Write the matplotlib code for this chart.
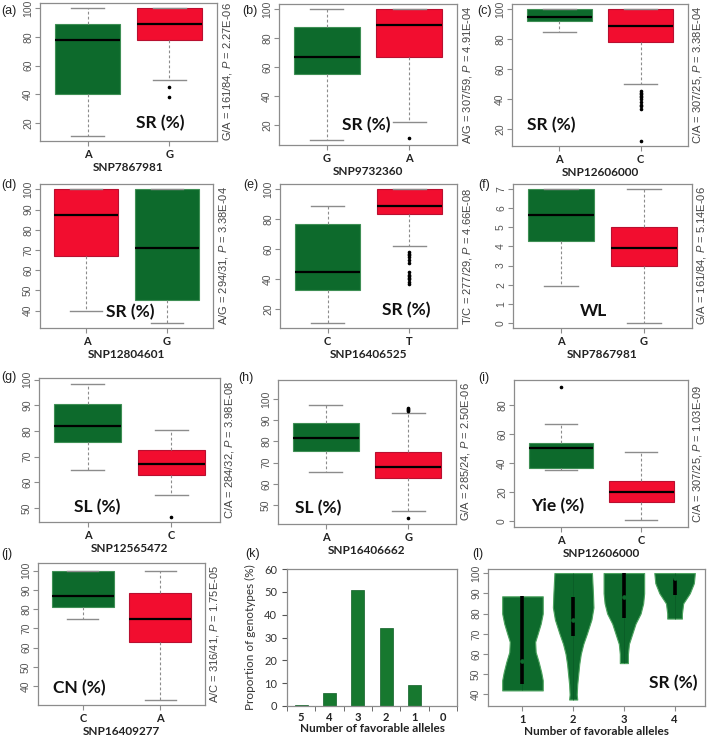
import matplotlib.pyplot as plt
import numpy as np

plt.rcParams['font.family'] = 'Liberation Sans'
plt.rcParams['mathtext.fontset'] = 'custom'
plt.rcParams['mathtext.rm'] = 'Liberation Sans'
plt.rcParams['mathtext.it'] = 'Liberation Sans:italic'

GREEN = '#0d6a2c'
RED = '#f20d2f'

# box stats per allele: [lower whisker, q1, median, q3, upper whisker]
a_snp = 'SNP7867981'
a_alleles = ['A', 'G']
a_stats = [[11, 40, 78, 89, 100], [50, 78, 89, 100, 100]]
a_fliers = [[], [45, 38]]
a_fav = 'A'
a_trait = 'SR (%)'
a_note = 'G/A = 161/84, $P$ = 2.27E-06'
a_yticks = [20, 40, 60, 80, 100]

b_snp = 'SNP9732360'
b_alleles = ['G', 'A']
b_stats = [[10, 55, 67, 88, 100], [22, 67, 89, 100, 100]]
b_fliers = [[], [11]]
b_fav = 'G'
b_trait = 'SR (%)'
b_note = 'A/G = 307/59, $P$ = 4.91E-04'
b_yticks = [20, 40, 60, 80, 100]

c_snp = 'SNP12606000'
c_alleles = ['A', 'C']
c_stats = [[85, 92, 95, 100, 100], [50, 78, 89, 100, 100]]
c_fliers = [[], [45, 44, 43, 42, 41, 40, 38, 36, 35, 33, 12]]
c_fav = 'A'
c_trait = 'SR (%)'
c_note = 'C/A = 307/25, $P$ = 3.38E-04'
c_yticks = [20, 40, 60, 80, 100]

d_snp = 'SNP12804601'
d_alleles = ['A', 'G']
d_stats = [[40, 67, 87.5, 100, 100], [34, 45, 71, 100, 100]]
d_fliers = [[], []]
d_fav = 'G'
d_trait = 'SR (%)'
d_note = 'A/G = 294/31, $P$ = 3.38E-04'
d_yticks = [40, 50, 60, 70, 80, 90, 100]

e_snp = 'SNP16406525'
e_alleles = ['C', 'T']
e_stats = [[11, 33, 44.5, 77, 89], [62.5, 83.5, 89, 100, 100]]
e_fliers = [[], [58, 57, 56, 55, 53, 51, 45, 43, 42, 41, 40, 38, 37]]
e_fav = 'C'
e_trait = 'SR (%)'
e_note = 'T/C = 277/29, $P$ = 4.66E-08'
e_yticks = [20, 40, 60, 80, 100]

f_snp = 'SNP7867981'
f_alleles = ['A', 'G']
f_stats = [[1.9, 4.3, 5.65, 7, 7], [0, 3, 3.9, 5, 7]]
f_fliers = [[], []]
f_fav = 'A'
f_trait = 'WL'
f_note = 'G/A = 161/84, $P$ = 5.14E-06'
f_yticks = [0, 1, 2, 3, 4, 5, 6, 7]

g_snp = 'SNP12565472'
g_alleles = ['A', 'C']
g_stats = [[65, 75.7, 82, 90.5, 98.4], [55, 62.7, 67, 72.5, 80.2]]
g_fliers = [[], [46.7]]
g_fav = 'A'
g_trait = 'SL (%)'
g_note = 'C/A = 284/32, $P$ = 3.98E-08'
g_yticks = [50, 60, 70, 80, 90, 100]

h_snp = 'SNP16406662'
h_alleles = ['A', 'G']
h_stats = [[65.5, 75.5, 81.5, 88.5, 97], [47, 62.5, 68, 75, 93.5]]
h_fliers = [[], [96, 95.5, 95, 94.5, 44]]
h_fav = 'A'
h_trait = 'SL (%)'
h_note = 'G/A = 285/24, $P$ = 2.50E-06'
h_yticks = [50, 60, 70, 80, 90, 100]

i_snp = 'SNP12606000'
i_alleles = ['A', 'C']
i_stats = [[35, 36.5, 50, 53.5, 66.5], [0.5, 13.5, 20, 27.5, 47.5]]
i_fliers = [[92], []]
i_fav = 'A'
i_trait = 'Yie (%)'
i_note = 'C/A = 307/25, $P$ = 1.03E-09'
i_yticks = [0, 20, 40, 60, 80]

j_snp = 'SNP16409277'
j_alleles = ['C', 'A']
j_stats = [[75, 81, 87, 100, 100], [33, 62.7, 74.7, 88.3, 100]]
j_fliers = [[], []]
j_fav = 'C'
j_trait = 'CN (%)'
j_note = 'A/C = 316/41, $P$ = 1.75E-05'
j_yticks = [40, 50, 60, 70, 80, 90, 100]

# (k) share of genotypes by number of favourable alleles
k_alleles = ['5', '4', '3', '2', '1', '0']
k_values = [0.4, 5.8, 50.7, 34.0, 9.3, 0]

# (l) violin outlines: SR level and half width
l_groups = ['1', '2', '3', '4']
l1_y = [42, 47, 51, 56, 61, 66, 70, 75, 80, 88.5]
l1_w = [0.40, 0.40, 0.37, 0.32, 0.26, 0.25, 0.30, 0.36, 0.40, 0.40]
l2_y = [37.5, 40, 45, 50, 55, 60, 65, 70, 77, 83, 90, 100]
l2_w = [0.08, 0.07, 0.08, 0.10, 0.12, 0.15, 0.20, 0.27, 0.36, 0.40, 0.39, 0.37]
l3_y = [55.5, 60, 65, 70, 75, 80, 85, 90, 95, 100]
l3_w = [0.08, 0.08, 0.10, 0.165, 0.23, 0.33, 0.38, 0.40, 0.40, 0.40]
l4_y = [77.5, 80, 85, 90, 95, 100]
l4_w = [0.145, 0.145, 0.17, 0.30, 0.38, 0.40]
l_q1 = [45, 69, 78, 89]
l_med = [56.5, 77, 88, 97.5]
l_q3 = [88.5, 88.3, 100, 97.6]
l_yticks = [40, 50, 60, 70, 80, 90, 100]

W, H = 709, 741
fig = plt.figure(figsize=(W / 100, H / 100), dpi=100)


def px_axes(l, t, r, b):
    return fig.add_axes([l / W, 1 - b / H, (r - l) / W, (b - t) / H])


def style_axes(ax, rotate_y=True):
    for s in ax.spines.values():
        s.set_color('#8c8c8c')
        s.set_linewidth(0.9)
    ax.tick_params(axis='both', color='#8c8c8c', length=3.5, width=0.8)
    ax.tick_params(axis='x', pad=2.5)
    if rotate_y:
        ax.tick_params(axis='y', labelrotation=90, labelsize=7.5,
                       labelcolor='#555555', pad=1.5)
        for lab in ax.get_yticklabels():
            lab.set_verticalalignment('center')


def box_panel(rect, alleles, stats, fliers, fav, trait, note, yticks, snp,
              ylim, trait_xy):
    ax = px_axes(*rect)
    data = []
    for name, s, f in zip(alleles, stats, fliers):
        data.append(dict(label=name, whislo=s[0], q1=s[1], med=s[2],
                         q3=s[3], whishi=s[4], fliers=f))
    res = ax.bxp(data, positions=[1, 2], widths=0.8, capwidths=0.4,
                 patch_artist=True,
                 boxprops=dict(linewidth=0.8),
                 medianprops=dict(color='black', linewidth=1.6),
                 whiskerprops=dict(color='#8c8c8c', linewidth=0.8,
                                   linestyle=(0, (2.5, 2))),
                 capprops=dict(color='#8c8c8c', linewidth=1.0),
                 flierprops=dict(marker='o', markersize=1.6,
                                 markerfacecolor='black',
                                 markeredgecolor='black', linestyle='none'))
    for name, patch in zip(alleles, res['boxes']):
        if name == fav:
            patch.set_facecolor(GREEN)
            patch.set_edgecolor('#3f8f55')
        else:
            patch.set_facecolor(RED)
            patch.set_edgecolor('#b81030')
    ax.set_xlim(0.42, 2.58)
    ax.set_ylim(*ylim)
    ax.set_yticks(yticks)
    ax.set_xticks([1, 2], alleles, family='Lato', fontweight='bold',
                  fontsize=8, color='#222222')
    ax.set_xlabel(snp, family='Lato', fontweight='bold', fontsize=8.5,
                  color='#222222', labelpad=1)
    style_axes(ax)
    ax.text(trait_xy[0], trait_xy[1], trait, transform=ax.transAxes,
            ha='center', va='center', fontsize=12.5, fontweight='bold',
            family='Lato', color='#111111')
    l, t, r, b = rect
    fig.text((r + 10) / W, 1 - (t + b) / 2 / H, note, rotation=90,
             ha='center', va='center', fontsize=8, color='#444444')
    return ax


box_panel((40, 3, 217, 141), a_alleles, a_stats, a_fliers, a_fav, a_trait,
          a_note, a_yticks, a_snp, (7.44, 103.56), (0.68, 0.13))
box_panel((279, 4, 457, 145), b_alleles, b_stats, b_fliers, b_fav, b_trait,
          b_note, b_yticks, b_snp, (6.4, 103.6), (0.49, 0.14))
box_panel((512, 4, 688, 146), c_alleles, c_stats, c_fliers, c_fav, c_trait,
          c_note, c_yticks, c_snp, (8.48, 103.52), (0.225, 0.15))
box_panel((40, 184, 213, 328), d_alleles, d_stats, d_fliers, d_fav, d_trait,
          d_note, d_yticks, d_snp, (31.36, 102.64), (0.52, 0.11))
box_panel((280, 184, 457, 328), e_alleles, e_stats, e_fliers, e_fav, e_trait,
          e_note, e_yticks, e_snp, (7.44, 103.56), (0.716, 0.125))
box_panel((513, 184, 692, 328), f_alleles, f_stats, f_fliers, f_fav, f_trait,
          f_note, f_yticks, f_snp, (-0.28, 7.28), (0.45, 0.12))
box_panel((39, 378, 220, 522), g_alleles, g_stats, g_fliers, g_fav, g_trait,
          g_note, g_yticks, g_snp, (44.6, 100.6), (0.32, 0.106))
box_panel((278, 380, 456, 524), h_alleles, h_stats, h_fliers, h_fav, h_trait,
          h_note, h_yticks, h_snp, (41, 109), (0.226, 0.11))
box_panel((514, 380, 688, 527), i_alleles, i_stats, i_fliers, i_fav, i_trait,
          i_note, i_yticks, i_snp, (-4, 97), (0.25, 0.14))
box_panel((38, 563, 205, 705), j_alleles, j_stats, j_fliers, j_fav, j_trait,
          j_note, j_yticks, j_snp, (30.2, 104), (0.247, 0.117))

# (k) bar chart
ax = px_axes(287, 569, 457, 706)
x = np.arange(len(k_alleles))
ax.bar(x, k_values, width=0.45, color='#17782f', edgecolor='#0f5f26',
       linewidth=0.5)
ax.set_xlim(-0.5, len(k_alleles) - 0.5)
ax.set_ylim(0, 60)
ax.set_yticks(np.arange(0, 61, 10))
ax.set_xticks(x, k_alleles, family='Lato', fontweight='bold', fontsize=8,
              color='#222222')
ax.set_xticks(np.arange(-0.5, len(k_alleles), 1), minor=True)
for s in ax.spines.values():
    s.set_color('#8c8c8c')
    s.set_linewidth(0.9)
ax.tick_params(axis='x', which='major', length=0, pad=4)
ax.tick_params(axis='x', which='minor', length=3.5, color='#555555')
ax.tick_params(axis='y', length=3.5, color='#555555', labelsize=8,
               labelcolor='#333333')
for lab in ax.get_yticklabels():
    lab.set_family('Lato')
ax.set_ylabel('Proportion of genotypes (%)', family='Lato', fontsize=8.5,
              color='#333333', labelpad=6)
ax.set_xlabel('Number of favorable alleles', family='Lato',
              fontweight='bold', fontsize=8.5, color='#222222', labelpad=0.5)

# (l) violin plot
ax = px_axes(488, 569, 705, 706)
profiles = [(l1_y, l1_w), (l2_y, l2_w), (l3_y, l3_w), (l4_y, l4_w)]
for pos, (ys, ws) in enumerate(profiles, start=1):
    ys = np.array(ys)
    ws = np.array(ws)
    ax.fill_betweenx(ys, pos - ws, pos + ws, facecolor=GREEN,
                     edgecolor='#4da35f', linewidth=0.8)
    ax.vlines(pos, ys.min(), ys.max(), color='#0a5a25', linewidth=0.5)
pos = np.arange(1, len(l_groups) + 1)
ax.vlines(pos, l_q1, l_q3, color='black', linewidth=2.6)
ax.plot(pos, l_med, linestyle='none', marker='o', markersize=2.3,
        markerfacecolor=GREEN, markeredgecolor=GREEN)
ax.set_xlim(0.32, 4.6)
ax.set_ylim(34.3, 102)
ax.set_yticks(l_yticks)
ax.set_xticks(pos, l_groups, family='Lato', fontweight='bold', fontsize=8,
              color='#222222')
ax.set_xlabel('Number of favorable alleles', family='Lato',
              fontweight='bold', fontsize=8.5, color='#222222', labelpad=0.5)
style_axes(ax)
ax.text(0.854, 0.165, 'SR (%)', transform=ax.transAxes, ha='center',
        va='center', fontsize=12.5, fontweight='bold', family='Lato',
        color='#111111')

# panel letters
letters = ['(a)', '(b)', '(c)', '(d)', '(e)', '(f)', '(g)', '(h)', '(i)',
           '(j)', '(k)', '(l)']
letter_xy = [(1, 5), (242, 5), (477, 5), (1, 179), (243, 179), (478, 179),
             (1, 371), (238, 372), (478, 372), (1, 548), (245, 548),
             (472, 548)]
for lab, (lx, ly) in zip(letters, letter_xy):
    fig.text(lx / W, 1 - ly / H, lab, fontsize=9, ha='left', va='top',
             color='#222222')

fig.savefig('out.png', dpi=100)
